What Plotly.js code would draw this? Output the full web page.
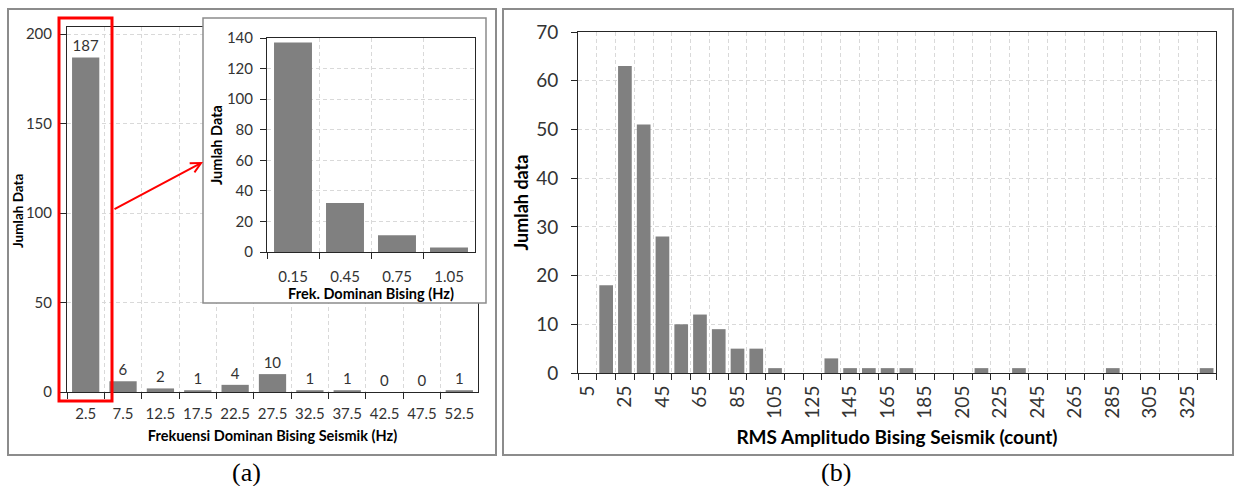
<!DOCTYPE html>
<html>
<head>
<meta charset="utf-8">
<script src="https://cdn.plot.ly/plotly-3.0.1.min.js"></script>
<style>html,body{margin:0;padding:0;background:#fff;}#chart{width:1237px;height:486px;}</style>
</head>
<body>
<div id="chart"></div>
<script>
// ---- data ----
const leftCats = ['2.5','7.5','12.5','17.5','22.5','27.5','32.5','37.5','42.5','47.5','52.5'];
const leftVals = [187, 6, 2, 1, 4, 10, 1, 1, 0, 0, 1];

const insetCats = ['0.15','0.45','0.75','1.05'];
const insetVals = [137, 32, 11, 3];

const rightCats = ['5','15','25','35','45','55','65','75','85','95','105','115','125','135','145','155','165','175','185','195','205','215','225','235','245','255','265','275','285','295','305','315','325','335'];
const rightVals = [0, 18, 63, 51, 28, 10, 12, 9, 5, 5, 1, 0, 0, 3, 1, 1, 1, 1, 0, 0, 0, 1, 0, 1, 0, 0, 0, 0, 1, 0, 0, 0, 0, 1];
const rightTickText = rightCats.map((c, i) => (i % 2 === 0 ? c : ''));

// ---- layout helpers ----
const W = 1237, H = 486;
const px = v => v / W;
const py = v => 1 - v / H;
const FONT = 'Lato, "Open Sans", sans-serif';
const SERIF = '"Liberation Serif", "Times New Roman", serif';
const BAR = '#808080';
const GRID = '#d9d9d9';
const LINE = '#262626';
const TICKC = '#333333';

const baseAxis = {
  showline: true, linecolor: LINE, linewidth: 1, mirror: true,
  ticks: 'outside', ticklen: 6, tickcolor: LINE, tickwidth: 1,
  showgrid: true, gridcolor: GRID, griddash: '4px,3px', gridwidth: 1,
  zeroline: false, fixedrange: true
};

const traces = [
  { type: 'bar', x: leftCats, y: leftVals, xaxis: 'x', yaxis: 'y',
    marker: { color: BAR }, text: leftVals.map(String), textposition: 'outside',
    textfont: { family: FONT, size: 15, color: TICKC }, cliponaxis: false, hoverinfo: 'skip' },
  { type: 'scatter', x: [], y: [], xaxis: 'x2', yaxis: 'y2', hoverinfo: 'skip', showlegend: false },
  { type: 'bar', x: insetCats, y: insetVals, xaxis: 'x3', yaxis: 'y3',
    marker: { color: BAR }, hoverinfo: 'skip' },
  { type: 'bar', x: rightCats, y: rightVals, xaxis: 'x4', yaxis: 'y4',
    marker: { color: BAR }, hoverinfo: 'skip' }
];

const layout = {
  width: W, height: H,
  margin: { l: 0, r: 0, t: 0, b: 0 },
  paper_bgcolor: '#ffffff', plot_bgcolor: '#ffffff',
  showlegend: false, bargap: 0.27,
  font: { family: FONT, color: TICKC },
  // left main chart
  xaxis: Object.assign({}, baseAxis, {
    domain: [px(67), px(478)], anchor: 'y', type: 'category', tickson: 'boundaries',
    tickangle: 0, ticklabelstandoff: 8,
    tickfont: { family: FONT, size: 15, color: TICKC },
    title: { text: 'Frekuensi Dominan Bising Seismik (Hz)', font: { family: FONT, size: 14.5, color: '#000', weight: 'bold' }, standoff: 9 }
  }),
  yaxis: Object.assign({}, baseAxis, {
    domain: [py(392), py(27)], anchor: 'x', range: [0, 204], tickvals: [0, 50, 100, 150, 200],
    ticklabelstandoff: 5,
    tickfont: { family: FONT, size: 15, color: TICKC }
  }),
  // cover subplot for inset
  xaxis2: { domain: [px(203), px(486)], anchor: 'y2', visible: false, range: [0, 1], fixedrange: true },
  yaxis2: { domain: [py(303), py(18)], anchor: 'x2', visible: false, range: [0, 1], fixedrange: true },
  // inset chart
  xaxis3: Object.assign({}, baseAxis, {
    domain: [px(267), px(475)], anchor: 'y3', type: 'category', tickson: 'boundaries',
    tickangle: 0, ticklabelstandoff: 11,
    tickfont: { family: FONT, size: 15, color: TICKC },
    title: { text: 'Frek. Dominan Bising (Hz)', font: { family: FONT, size: 14.5, color: '#000', weight: 'bold' }, standoff: 1 }
  }),
  yaxis3: Object.assign({}, baseAxis, {
    domain: [py(252), py(38)], anchor: 'x3', range: [0, 140], dtick: 20,
    ticklabelstandoff: 4,
    tickfont: { family: FONT, size: 15, color: TICKC },
    title: { text: 'Jumlah Data', font: { family: FONT, size: 14.5, color: '#000', weight: 'bold' }, standoff: 0 }
  }),
  // right chart
  xaxis4: Object.assign({}, baseAxis, {
    domain: [px(578), px(1216)], anchor: 'y4', type: 'category', tickson: 'boundaries',
    tickmode: 'array', tickvals: rightCats, ticktext: rightTickText, tickangle: -90,
    ticklabelstandoff: 4,
    tickfont: { family: FONT, size: 19, color: TICKC },
    title: { text: 'RMS Amplitudo Bising Seismik (count)', font: { family: FONT, size: 19, color: '#000', weight: 'bold' }, standoff: 13 }
  }),
  yaxis4: Object.assign({}, baseAxis, {
    domain: [py(373), py(32)], anchor: 'x4', range: [0, 70], dtick: 10,
    ticklabelstandoff: 9,
    tickfont: { family: FONT, size: 19, color: TICKC },
    title: { text: 'Jumlah data', font: { family: FONT, size: 18, color: '#000', weight: 'bold' }, standoff: 2 }
  }),
  shapes: [
    // panel frames
    { type: 'rect', xref: 'paper', yref: 'paper', x0: px(8), x1: px(496), y0: py(455), y1: py(9),
      line: { color: '#8c8c8c', width: 2 }, layer: 'below' },
    { type: 'rect', xref: 'paper', yref: 'paper', x0: px(503), x1: px(1233), y0: py(455), y1: py(9),
      line: { color: '#8c8c8c', width: 2 }, layer: 'below' },
    // white cover behind inset
    { type: 'rect', xref: 'x2 domain', yref: 'y2 domain', x0: 0, x1: 1, y0: 0, y1: 1,
      fillcolor: '#ffffff', line: { width: 0 }, layer: 'below' },
    // inset frame
    { type: 'rect', xref: 'paper', yref: 'paper', x0: px(203), x1: px(486), y0: py(303), y1: py(18),
      line: { color: '#8c8c8c', width: 1.5 }, layer: 'above' },
    // red highlight box
    { type: 'rect', xref: 'paper', yref: 'paper', x0: px(59), x1: px(112), y0: py(401), y1: py(18),
      line: { color: '#ff0000', width: 3 }, layer: 'above' }
  ],
  annotations: [
    { xref: 'paper', yref: 'paper', x: px(18), y: py(211), xanchor: 'center', yanchor: 'middle',
      text: '<b>Jumlah Data</b>', textangle: -90, showarrow: false,
      font: { family: FONT, size: 13.5, color: '#000' } },
    { xref: 'paper', yref: 'paper', x: px(203), y: py(162), text: '', showarrow: true,
      ax: -90, ay: 48, arrowcolor: '#ff0000', arrowwidth: 2, arrowhead: 5, arrowsize: 1 },
    { xref: 'paper', yref: 'paper', x: px(246), y: py(472), xanchor: 'center', yanchor: 'middle',
      text: '(a)', showarrow: false, font: { family: SERIF, size: 26, color: '#000' } },
    { xref: 'paper', yref: 'paper', x: px(836), y: py(472), xanchor: 'center', yanchor: 'middle',
      text: '(b)', showarrow: false, font: { family: SERIF, size: 26, color: '#000' } }
  ]
};

Plotly.newPlot('chart', traces, layout, { staticPlot: true, displayModeBar: false });
</script>
</body>
</html>
